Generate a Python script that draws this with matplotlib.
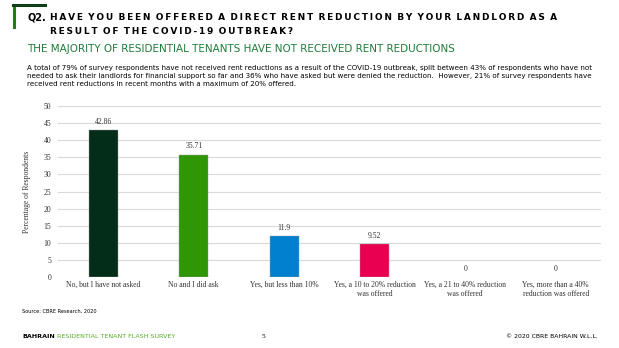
import matplotlib
matplotlib.use("Agg")
import matplotlib.pyplot as plt
import numpy as np

categories = ["No, but I have not asked", "No and I did ask", "Yes, but less than 10%",
              "Yes, a 10 to 20% reduction\nwas offered", "Yes, a 21 to 40% reduction\nwas offered",
              "Yes, more than a 40%\nreduction was offered"]
values = [42.86, 35.71, 11.9, 9.52, 0, 0]
value_labels = ["42.86", "35.71", "11.9", "9.52", "0", "0"]
colors = ["#032d18", "#2f9606", "#0080cf", "#ea0050", "#ea0050", "#ea0050"]

sub_green = "#1f7d3a"
foot_green = "#5aad2c"

def spaced(s):
    return "\u2009".join(s).replace("\u2009 \u2009", "\u2009\u2009\u2009")

fig = plt.figure(figsize=(6.19, 3.48), dpi=100)

# corner bracket
fig.add_artist(plt.Line2D([0.023, 0.023], [0.922, 0.985], color="#2a7a1c", lw=2.2))
fig.add_artist(plt.Line2D([0.021, 0.073], [0.985, 0.985], color="#0d3f14", lw=2.2))

fig.text(27/619, 1 - 18/348, "Q2.", fontsize=7.0, fontweight="bold", va="center",
         family="DejaVu Sans")
fig.text(50/619, 1 - 18/348, spaced("HAVE YOU BEEN OFFERED A DIRECT RENT REDUCTION BY YOUR LANDLORD AS A"),
         fontsize=6.45, fontweight="bold", va="center", family="DejaVu Sans")
fig.text(50/619, 1 - 32/348, spaced("RESULT OF THE COVID-19 OUTBREAK?"),
         fontsize=6.45, fontweight="bold", va="center", family="DejaVu Sans")

fig.text(27/619, 1 - 49/348, "THE MAJORITY OF RESIDENTIAL TENANTS HAVE NOT RECEIVED RENT REDUCTIONS",
         fontsize=7.5, color=sub_green, va="center", family="DejaVu Sans")

para = ("A total of 79% of survey respondents have not received rent reductions as a result of the COVID-19 outbreak, split between 43% of respondents who have not\n"
        "needed to ask their landlords for financial support so far and 36% who have asked but were denied the reduction.  However, 21% of survey respondents have\n"
        "received rent reductions in recent months with a maximum of 20% offered.")
fig.text(27/619, 1 - 65/348, para, fontsize=5.15, va="top", linespacing=1.4, family="DejaVu Sans")

ax = fig.add_axes([58/619, 1 - 277/348, 543/619, 171/348])
x = np.arange(len(categories))
ax.bar(x, values, width=0.32, color=colors, edgecolor="#9a9a9a",
       linewidth=[0.3 if v > 0 else 0 for v in values], zorder=3)
for xi, v, lab in zip(x, values, value_labels):
    ax.text(xi, v + 1.3, lab, ha="center", va="bottom", fontsize=5.5, family="Liberation Serif", color="#333333")
ax.set_xlim(-0.5, 5.5)
ax.set_ylim(0, 50)
ax.set_yticks(range(0, 51, 5))
ax.set_xticks(x)
ax.set_xticklabels(categories, fontsize=5.5, family="Liberation Serif", color="#333333", linespacing=1.1)
ax.tick_params(axis="y", labelsize=5.5, length=0, pad=5, labelcolor="#333333")
for lab in ax.get_yticklabels():
    lab.set_family("Liberation Serif")
ax.tick_params(axis="x", length=0, pad=3)
ax.grid(axis="y", color="#d9d9d9", lw=0.8, zorder=0)
for s in ax.spines.values():
    s.set_visible(False)
ax.set_ylabel("Percentage of Respondents", fontsize=5.5, family="Liberation Serif", color="#333333", labelpad=9)

fig.text(22/619, 1 - 311/348, "Source: CBRE Research, 2020", fontsize=3.6, va="center", family="DejaVu Sans Condensed")

t1 = fig.text(22/619, 1 - 337/348, "BAHRAIN", fontsize=4.6, fontweight="bold", va="center", family="DejaVu Sans")
ax.annotate(" RESIDENTIAL TENANT FLASH SURVEY", xy=(1, 0.5), xycoords=t1, va="center", ha="left",
            fontsize=4.6, color=foot_green, family="DejaVu Sans")
fig.text(262/619, 1 - 337/348, "5", fontsize=5.2, va="center", family="Liberation Serif")
fig.text(598/619, 1 - 337/348, "\u00a9 2020 CBRE BAHRAIN W.L.L.", fontsize=4.4, va="center", ha="right",
         family="DejaVu Sans")

fig.savefig("out.png", dpi=100)
